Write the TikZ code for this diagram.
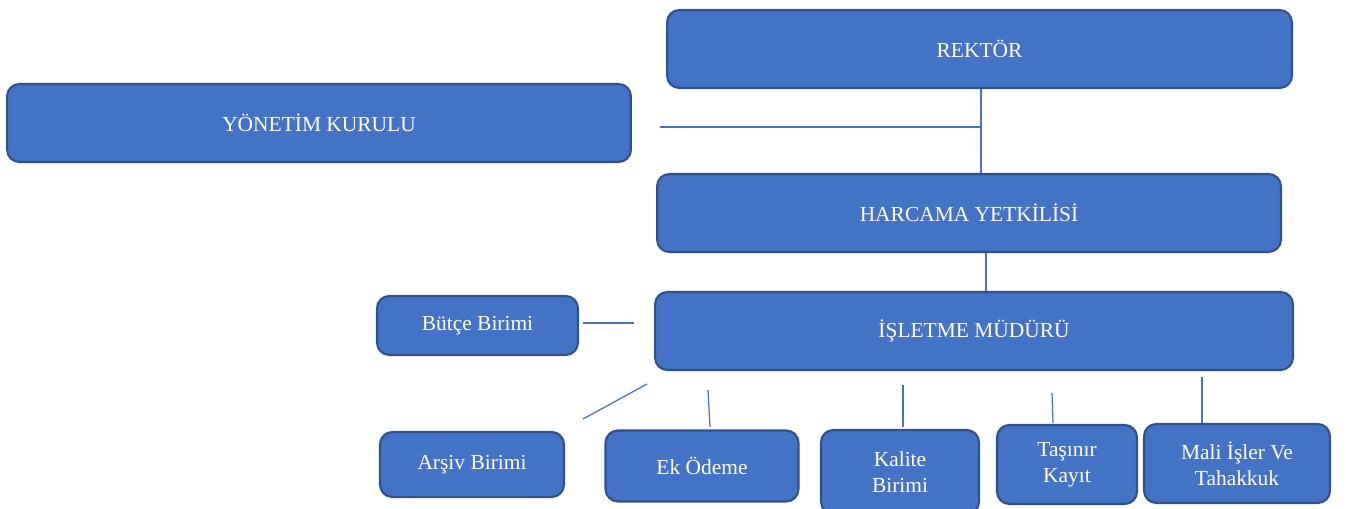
\documentclass[tikz,border=0pt]{standalone}
\usepackage{fontspec}
\setmainfont{Liberation Serif}
\definecolor{boxfill}{HTML}{4472C4}
\definecolor{boxline}{HTML}{2F528F}

\begin{document}
\begin{tikzpicture}[
        x=0.02cm, y=-0.02cm,
        box/.style={draw=boxline, fill=boxfill, line width=1.2pt, rounded corners=7pt,
            text=white, align=center, inner sep=0pt, font=\fontsize{12.2}{14.7}\selectfont},
        ln/.style={draw=boxfill, line width=0.7pt},
    ]
    \useasboundingbox (0,0) rectangle (1346,509);

    % upper levels
    \node[box, minimum width=12.5cm, minimum height=1.56cm](rektor) at (979.5,49) {REKTÖR};
    \node[box, minimum width=12.48cm, minimum height=1.56cm](yonetim) at (319,123) {YÖNETİM KURULU};
    \node[box, minimum width=12.48cm, minimum height=1.56cm](harcama) at (969,213) {HARCAMA YETKİLİSİ};
    \node[box, minimum width=12.76cm, minimum height=1.56cm](isletme) at (974,331) {İŞLETME MÜDÜRÜ};
    \node[box, minimum width=4.02cm, minimum height=1.18cm](butce) at (477.5,325.5) {Bütçe Birimi};

    % units
    \node[box, minimum width=3.68cm, minimum height=1.3cm](arsiv) at (472,464.5) {Arşiv Birimi};
    \node[box, minimum width=3.86cm, minimum height=1.42cm](ek) at (702,466) {Ek Ödeme};
    \node[box, minimum width=3.16cm, minimum height=1.68cm](kalite) at (900,472) {Kalite\\Birimi};
    \node[box, minimum width=2.8cm, minimum height=1.58cm](tasinir) at (1067,464.5) {Taşınır\\Kayıt};
    \node[box, minimum width=3.72cm, minimum height=1.58cm](mali) at (1237,463.5) {Mali İşler Ve\\Tahakkuk};

    \coordinate (yk) at (660,127);
    \coordinate (b1) at (583,323);
    \coordinate (b2) at (634,323);
    \coordinate (a1) at (647,384);
    \coordinate (a2) at (583,419);
    \coordinate (e1) at (708,390);
    \coordinate (e2) at (710,427);
    \coordinate (k1) at (903,385);
    \coordinate (k2) at (903,427);
    \coordinate (t1) at (1052,393);
    \coordinate (t2) at (1053,423);
    \coordinate (m1) at (1202,377);
    \coordinate (m2) at (1202,423);

    \draw[ln] ([xshift=0.03cm]rektor.south) -- ([xshift=0.03cm]rektor.south |- harcama.north);
    \draw[ln] (yk) -- ([xshift=0.03cm]rektor.south |- yk);
    \draw[ln] ([xshift=0.34cm]harcama.south) -- ([xshift=0.34cm]harcama.south |- isletme.north);
    \draw[ln] (b1) -- (b2);
    \draw[ln] (a1) -- (a2);
    \draw[ln] (e1) -- (e2);
    \draw[ln] (k1) -- (k2);
    \draw[ln] (t1) -- (t2);
    \draw[ln] (m1) -- (m2);
\end{tikzpicture}
\end{document}
